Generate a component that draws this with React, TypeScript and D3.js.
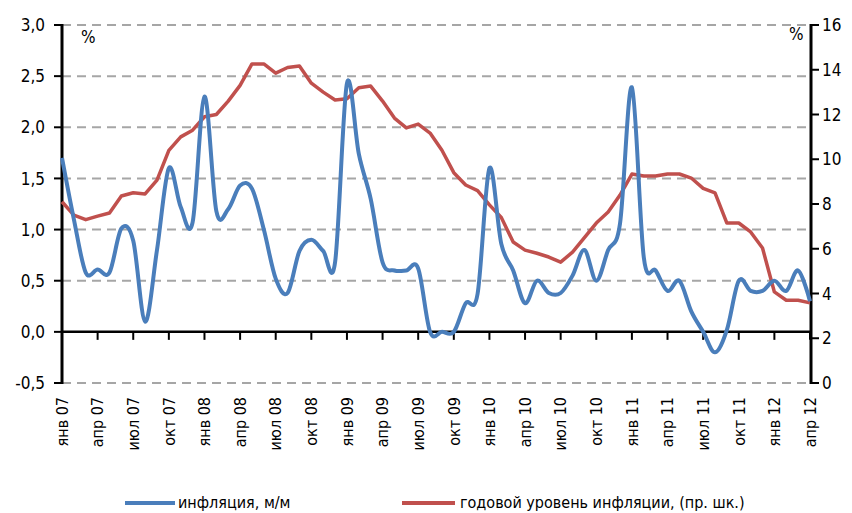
import React from 'react';
import * as d3 from 'd3';

// monthly CPI, % m/m (Jan 07 .. Apr 12)
const monthly = [
  1.7, 1.1, 0.58, 0.61, 0.58, 1.01, 0.89, 0.1, 0.8, 1.6, 1.22, 1.07,
  2.3, 1.18, 1.2, 1.43, 1.4, 1.0, 0.52, 0.38, 0.79, 0.9, 0.79, 0.68,
  2.43, 1.74, 1.3, 0.68, 0.6, 0.6, 0.62, 0.0, 0.0, 0.0, 0.28, 0.37,
  1.6, 0.86, 0.6, 0.28, 0.5, 0.38, 0.38, 0.55, 0.8, 0.5, 0.8, 1.06,
  2.39, 0.73, 0.6, 0.4, 0.5, 0.2, 0.0, -0.2, 0.02, 0.5, 0.4, 0.4,
  0.5, 0.4, 0.6, 0.3,
];

// annual CPI, % y/y (right scale)
const annual = [
  8.1, 7.5, 7.3, 7.46, 7.6, 8.36, 8.5, 8.45, 9.07, 10.4, 11.0, 11.3,
  11.9, 12.0, 12.6, 13.3, 14.26, 14.26, 13.85, 14.1, 14.17, 13.4, 13.0, 12.65,
  12.7, 13.2, 13.27, 12.6, 11.84, 11.4, 11.57, 11.17, 10.4, 9.4, 8.85, 8.6,
  7.96, 7.4, 6.3, 5.94, 5.8, 5.63, 5.4, 5.85, 6.5, 7.15, 7.64, 8.4,
  9.34, 9.25, 9.25, 9.34, 9.34, 9.16, 8.7, 8.5, 7.15, 7.15, 6.75, 6.03,
  4.07, 3.7, 3.7, 3.58,
];

const quarterLabels = [
  'янв 07', 'апр 07', 'июл 07', 'окт 07',
  'янв 08', 'апр 08', 'июл 08', 'окт 08',
  'янв 09', 'апр 09', 'июл 09', 'окт 09',
  'янв 10', 'апр 10', 'июл 10', 'окт 10',
  'янв 11', 'апр 11', 'июл 11', 'окт 11',
  'янв 12', 'апр 12',
];

const leftTicks = [-0.5, 0, 0.5, 1.0, 1.5, 2.0, 2.5, 3.0];
const rightTicks = [0, 2, 4, 6, 8, 10, 12, 14, 16];

const W = 852;
const H = 513;
const font = '"DejaVu Sans Condensed", "Liberation Sans Narrow", sans-serif';

export default function App() {
  const x = d3.scaleLinear().domain([0, monthly.length - 1]).range([62, 810]);
  const yL = d3.scaleLinear().domain([-0.5, 3]).range([383, 25]);
  const yR = d3.scaleLinear().domain([0, 16]).range([383, 25]);

  const blueLine = d3
    .line<number>()
    .x((_, i) => x(i))
    .y((d) => yL(d))
    .curve(d3.curveCardinal.tension(0));

  const redLine = d3
    .line<number>()
    .x((_, i) => x(i))
    .y((d) => yR(d));

  const fmt = (v: number) => v.toFixed(1).replace('.', ',');

  return (
    <svg
      width={W}
      height={H}
      style={{ position: 'absolute', left: 0, top: 0, background: '#fff' }}
      fontFamily={font}
    >
      {/* dashed grid */}
      {leftTicks
        .filter((t) => t !== 0)
        .map((t) => (
          <line
            key={'g' + t}
            x1={62}
            x2={810}
            y1={yL(t)}
            y2={yL(t)}
            stroke="#a6a6a6"
            strokeWidth={2}
            strokeDasharray="9,6"
          />
        ))}

      {/* x axis at 0 */}
      <line x1={62} x2={811} y1={yL(0)} y2={yL(0)} stroke="#000" strokeWidth={2.5} />
      {quarterLabels.map((lab, k) => (
        <g key={lab} transform={`translate(${x(k * 3)},0)`}>
          {k > 0 && <line y1={yL(0)} y2={yL(0) + 8} stroke="#000" strokeWidth={2} />}
          <text
            transform={`translate(0,397) rotate(-90)`}
            textAnchor="end"
            dy="0.36em"
            fontSize={16}
            fill="#000"
          >
            {lab}
          </text>
        </g>
      ))}

      {/* left axis */}
      <line x1={62} x2={62} y1={24} y2={384} stroke="#000" strokeWidth={3} />
      {leftTicks.map((t) => (
        <g key={'l' + t}>
          <line x1={54} x2={62} y1={yL(t)} y2={yL(t)} stroke="#000" strokeWidth={2} />
          <text x={45} y={yL(t)} dy="0.36em" textAnchor="end" fontSize={17} fill="#000">
            {fmt(t)}
          </text>
        </g>
      ))}
      <text x={81} y={43} fontSize={17} fill="#000">%</text>

      {/* right axis */}
      <line x1={811} x2={811} y1={24} y2={384} stroke="#000" strokeWidth={3} />
      {rightTicks.map((t) => (
        <g key={'r' + t}>
          <line x1={811} x2={819} y1={yR(t)} y2={yR(t)} stroke="#000" strokeWidth={2} />
          <text x={822} y={yR(t)} dy="0.36em" textAnchor="start" fontSize={17} fill="#000">
            {t}
          </text>
        </g>
      ))}
      <text x={789} y={40} fontSize={17} fill="#000">%</text>

      {/* series */}
      <path d={redLine(annual) ?? ''} fill="none" stroke="#c0504d" strokeWidth={3.5} strokeLinejoin="round" />
      <path d={blueLine(monthly) ?? ''} fill="none" stroke="#4a7ebb" strokeWidth={4} strokeLinejoin="round" />

      {/* legend */}
      <line x1={125} x2={175} y1={503} y2={503} stroke="#4a7ebb" strokeWidth={4} />
      <text x={178} y={508} fontSize={16} fill="#000">инфляция, м/м</text>
      <line x1={402} x2={455} y1={503} y2={503} stroke="#c0504d" strokeWidth={4} />
      <text x={460} y={508} fontSize={16} fill="#000">годовой уровень инфляции, (пр. шк.)</text>
    </svg>
  );
}
